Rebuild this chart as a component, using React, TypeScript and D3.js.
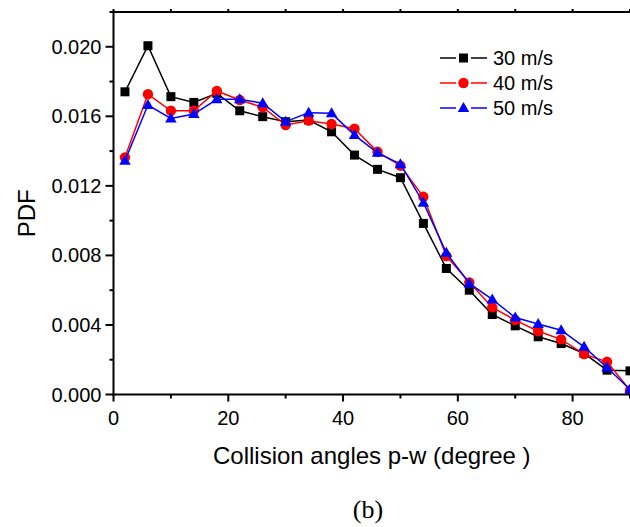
import React from "react";
import * as d3 from "d3";

const angles = [2, 6, 10, 14, 18, 22, 26, 30, 34, 38, 42, 46, 50, 54, 58, 62, 66, 70, 74, 78, 82, 86, 90];
const pdf30 = [0.01741, 0.02006, 0.01713, 0.0168, 0.01732, 0.01632, 0.01598, 0.01569, 0.01579, 0.01511, 0.01377, 0.01295, 0.01247, 0.00984, 0.00725, 0.006, 0.0046, 0.00395, 0.00332, 0.00293, 0.00236, 0.0014, 0.00136];
const pdf40 = [0.01364, 0.01727, 0.01632, 0.01632, 0.01746, 0.01694, 0.01652, 0.0155, 0.01575, 0.01556, 0.01529, 0.01396, 0.01316, 0.01137, 0.00796, 0.00645, 0.00501, 0.00428, 0.00364, 0.00317, 0.00232, 0.00188, 0.00025];
const pdf50 = [0.01344, 0.01665, 0.01588, 0.01613, 0.01698, 0.01698, 0.01675, 0.01569, 0.01621, 0.01617, 0.01492, 0.0139, 0.01325, 0.01103, 0.00815, 0.00639, 0.00547, 0.00443, 0.00405, 0.0037, 0.00274, 0.00155, 0.00029];
const seriesNames = ["30 m/s", "40 m/s", "50 m/s"];
const seriesColors = ["#000000", "#ff0000", "#0000ff"];
const seriesShapes = ["square", "circle", "triangle"];
const xTicks = [0, 20, 40, 60, 80];
const xMinorTicks = [10, 30, 50, 70, 90];
const yTicks = [0, 0.004, 0.008, 0.012, 0.016, 0.02];
const yMinorTicks = [0.002, 0.006, 0.01, 0.014, 0.018, 0.022];

const W = 630, H = 527;
const left = 113.5, right = 630, top = 12, bottom = 394.5;
const FONT = "Liberation Sans, Arial, sans-serif";

function Marker({ shape, x, y, color }: { shape: string; x: number; y: number; color: string }) {
  if (shape === "square") return <rect x={x - 4.5} y={y - 4.5} width={9} height={9} fill={color} />;
  if (shape === "circle") return <circle cx={x} cy={y} r={5.2} fill={color} />;
  const s = 11.5;
  const h = s * 0.87;
  return <path d={`M${x},${y - h * 0.6}L${x + s / 2},${y + h * 0.4}L${x - s / 2},${y + h * 0.4}Z`} fill={color} />;
}

export default function App() {
  const x = d3.scaleLinear().domain([0, 90]).range([left, right]);
  const y = d3.scaleLinear().domain([0, 0.022]).range([bottom, top]);
  const data = [pdf30, pdf40, pdf50];
  const line = d3.line<[number, number]>().x((d) => x(d[0])).y((d) => y(d[1]));
  const legX = 440, legY0 = 58, legDy = 25;
  return (
    <svg width={W} height={H} style={{ display: "block", position: "absolute", left: 0, top: 0 }}>
      <rect width={W} height={H} fill="#fff" />
      <defs>
        <clipPath id="plotclip">
          <rect x={left - 10} y={top - 10} width={right - left + 20} height={bottom - top + 20} />
        </clipPath>
      </defs>
      {/* series */}
      <g clipPath="url(#plotclip)">
        {data.map((vals, i) => {
          const pts = angles.map((a, j) => [a, vals[j]] as [number, number]);
          return (
            <g key={i}>
              <path d={line(pts) || ""} fill="none" stroke={seriesColors[i]} strokeWidth={1.5} />
              {pts.map((p, j) => (
                <Marker key={j} shape={seriesShapes[i]} x={x(p[0])} y={y(p[1])} color={seriesColors[i]} />
              ))}
            </g>
          );
        })}
      </g>
      {/* axes frame */}
      <g stroke="#000" strokeWidth={2} fill="none">
        <line x1={left} y1={top} x2={left} y2={bottom + 1} />
        <line x1={left - 1} y1={bottom} x2={right} y2={bottom} />
        <line x1={left - 1} y1={top} x2={right} y2={top} />
        {xTicks.map((t) => (
          <line key={"xb" + t} x1={x(t)} x2={x(t)} y1={bottom} y2={bottom + 7} />
        ))}
        {xMinorTicks.map((t) => (
          <line key={"xbm" + t} x1={x(t)} x2={x(t)} y1={bottom} y2={bottom + 4} />
        ))}
        {xTicks.concat(xMinorTicks).map((t) => (
          <line key={"xt" + t} x1={x(t)} x2={x(t)} y1={top} y2={top - 3} />
        ))}
        {yTicks.map((t) => (
          <line key={"yl" + t} x1={left} x2={left - 8} y1={y(t)} y2={y(t)} />
        ))}
        {yMinorTicks.map((t) => (
          <line key={"ylm" + t} x1={left} x2={left - 4} y1={y(t)} y2={y(t)} />
        ))}
      </g>
      {/* tick labels */}
      <g fontFamily={FONT} fontSize={20} fill="#000">
        {xTicks.map((t) => (
          <text key={"xl" + t} x={x(t)} y={bottom + 30} textAnchor="middle">
            {d3.format("d")(t)}
          </text>
        ))}
        {yTicks.map((t) => (
          <text key={"ylb" + t} x={left - 12} y={y(t)} dy="0.35em" textAnchor="end">
            {d3.format(".3f")(t)}
          </text>
        ))}
      </g>
      <text x={(left + right) / 2} y={464} textAnchor="middle" fontFamily={FONT} fontSize={24}>
        Collision angles p-w (degree )
      </text>
      <text transform={`translate(35,${(top + bottom) / 2 + 10}) rotate(-90)`} textAnchor="middle" fontFamily={FONT} fontSize={24}>
        PDF
      </text>
      <text x={368} y={518} textAnchor="middle" fontFamily="Liberation Serif, Times New Roman, serif" fontSize={26}>
        (b)
      </text>
      {/* legend */}
      {seriesNames.map((n, i) => {
        const ly = legY0 + i * legDy;
        return (
          <g key={n}>
            <line x1={legX} x2={legX + 47} y1={ly} y2={ly} stroke={seriesColors[i]} strokeWidth={1.5} />
            <rect x={legX + 16} y={ly - 6} width={15} height={12} fill="#fff" />
            <Marker shape={seriesShapes[i]} x={legX + 23.5} y={ly} color={seriesColors[i]} />
            <text x={legX + 53} y={ly} dy="0.35em" fontFamily={FONT} fontSize={20}>
              {n}
            </text>
          </g>
        );
      })}
    </svg>
  );
}
